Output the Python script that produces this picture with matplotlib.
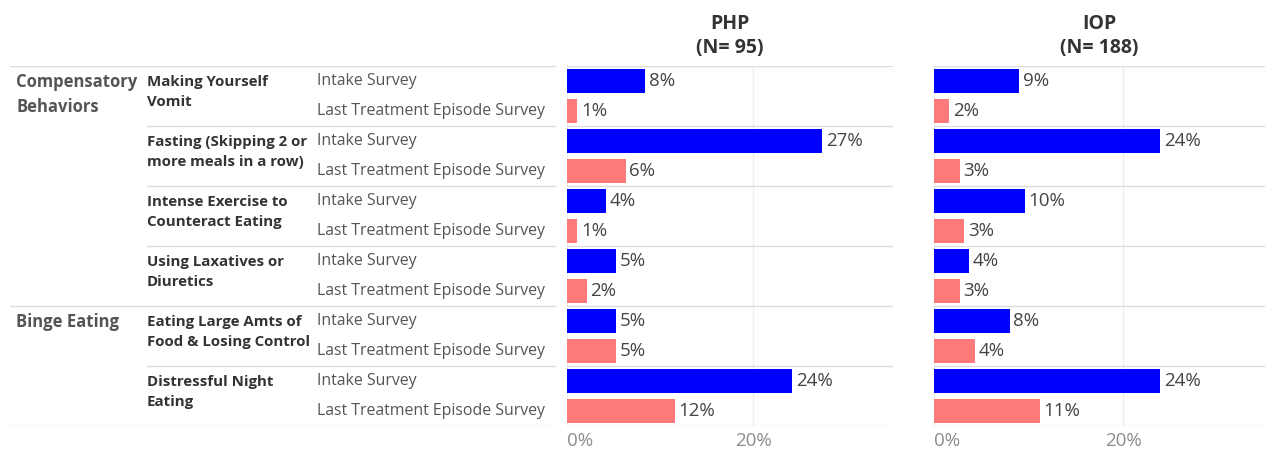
import matplotlib.pyplot as plt
from matplotlib.ticker import FixedLocator

plt.rcParams['font.family'] = ['Open Sans', 'DejaVu Sans']

categories = ['Compensatory\nBehaviors', 'Binge Eating']
category_sizes = [4, 2]
questions = ['Making Yourself\nVomit', 'Fasting (Skipping 2 or\nmore meals in a row)',
             'Intense Exercise to\nCounteract Eating', 'Using Laxatives or\nDiuretics',
             'Eating Large Amts of\nFood & Losing Control', 'Distressful Night\nEating']
surveys = ['Intake Survey', 'Last Treatment Episode Survey']

panels = ['PHP\n(N= 95)', 'IOP\n(N= 188)']
# percent of respondents, one value per (question, survey) row
php_values = [8.4, 1.1, 27.4, 6.3, 4.2, 1.1, 5.3, 2.1, 5.3, 5.3, 24.2, 11.6]
iop_values = [9.0, 1.6, 23.9, 2.7, 9.6, 3.2, 3.7, 2.7, 8.0, 4.3, 23.9, 11.2]
x_ticks = [0, 20]

BLUE = '#0000ff'
PINK = '#ff7b7b'
LINE = '#dcdcdc'
W, H = 1265, 451

fig = plt.figure(figsize=(W / 100, H / 100), dpi=100)

n_rows = len(questions) * len(surveys)
top_px, bottom_px = 66, 426
ax_b = (H - bottom_px) / H
ax_h = (bottom_px - top_px) / H

# label area
lab = fig.add_axes([0, ax_b, 560 / W, ax_h])
lab.set_xlim(0, 560)
lab.set_ylim(n_rows - 0.5, -0.5)
lab.axis('off')

row = 0
for cat, size in zip(categories, category_sizes):
    lab.text(16, row - 0.5 + 0.22, cat, ha='left', va='top', fontsize=12,
             fontweight='bold', color='#555555', linespacing=1.55)
    lab.plot([10, 555], [row - 0.5, row - 0.5], color=LINE, lw=1)
    row += size * len(surveys)
lab.plot([10, 555], [n_rows - 0.5, n_rows - 0.5], color=LINE, lw=1)

for qi, q in enumerate(questions):
    r0 = qi * len(surveys)
    lab.text(147, r0 - 0.5 + 0.3, q, ha='left', va='top', fontsize=10.8,
             fontweight='bold', color='#333333', linespacing=1.55)
    if qi not in (0, 4):
        lab.plot([147, 555], [r0 - 0.5, r0 - 0.5], color=LINE, lw=1)
    for si, s in enumerate(surveys):
        lab.text(317, r0 + si, s, ha='left', va='center', fontsize=11.4,
                 color='#555555')

rows = list(range(n_rows))
colors = [BLUE if r % 2 == 0 else PINK for r in rows]

boxes = [(567, 893), (934, 1265)]
for (x0, x1), title, vals in zip(boxes, panels, [php_values, iop_values]):
    ax = fig.add_axes([x0 / W, ax_b, (x1 - x0) / W, ax_h])
    ax.set_xlim(0, 35)
    ax.set_ylim(n_rows - 0.5, -0.5)
    for r in range(0, n_rows + 1, 2):
        ax.axhline(r - 0.5, color=LINE, lw=1, zorder=1)
    ax.axvline(0, color='#f0f0f0', lw=1, zorder=0)
    ax.axvline(20, color='#eeeeee', lw=1, zorder=0)
    ax.barh(rows, vals, height=0.78, color=colors, zorder=2)
    for r, v in zip(rows, vals):
        ax.text(v + 0.4, r, f'{round(v)}%', ha='left', va='center',
                fontsize=13.5, color='#444444')
    for side in ax.spines.values():
        side.set_visible(False)
    ax.set_yticks([])
    ax.xaxis.set_major_locator(FixedLocator(x_ticks))
    ax.set_xticklabels([f'{t}%' for t in x_ticks])
    ax.tick_params(axis='x', length=0, labelsize=13.5, labelcolor='#8c8c8c', pad=4)
    ax.get_xticklabels()[0].set_ha('left')
    ax.set_title(title, fontsize=14, fontweight='bold', color='#333333',
                 linespacing=1.3, pad=9)

fig.savefig('out.png', dpi=100)
